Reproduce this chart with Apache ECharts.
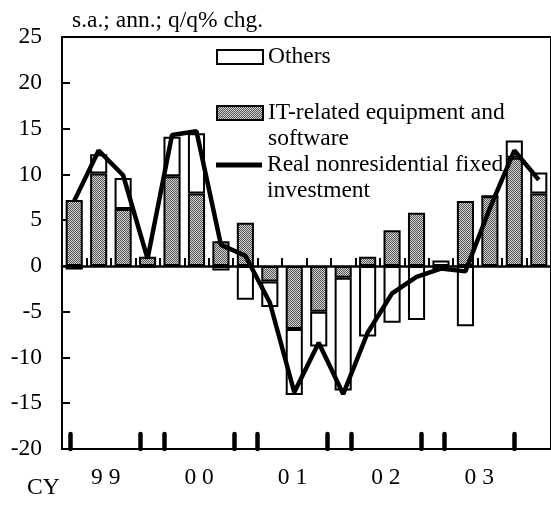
<!DOCTYPE html>
<html>
<head>
<meta charset="utf-8">
<script src="https://cdn.jsdelivr.net/npm/echarts@6/dist/echarts.min.js"></script>
<style>
  html, body { margin: 0; padding: 0; background: #fff; }
  #chart { width: 551px; height: 514px; }
</style>
</head>
<body>
<div id="chart"></div>
<script>
// quarterly data, 1999Q1 - 2003Q4
const quarters = ['99Q1','99Q2','99Q3','99Q4','00Q1','00Q2','00Q3','00Q4','01Q1','01Q2',
                  '01Q3','01Q4','02Q1','02Q2','02Q3','02Q4','03Q1','03Q2','03Q3','03Q4'];
const itValues = [7.2, 10.1, 6.2, 1.0, 9.8, 7.9, 2.7, 4.7, -1.7, -6.9,
                  -5.0, -1.3, 1.0, 3.9, 5.8, -0.4, 7.1, 7.6, 11.8, 7.9];
const othersValues = [-0.4, 2.1, 3.4, -0.2, 4.3, 6.6, -0.5, -3.7, -2.8, -7.2,
                      -3.8, -12.3, -7.7, -6.2, -5.9, 0.6, -6.6, 0, 1.9, 2.3];
const investValues = [7.1, 12.6, 9.9, 0.8, 14.3, 14.7, 2.3, 1.1, -4.0, -13.8,
                      -8.4, -14.0, -7.3, -3.0, -1.2, -0.3, -0.6, 6.3, 12.6, 9.4];
const yearLabels = ['9 9', '0 0', '0 1', '0 2', '0 3'];

const FONT = "'Liberation Serif', 'Times New Roman', serif";
const FS = 23.5;

// dotted fill for the IT bars
const pat = document.createElement('canvas');
pat.width = 2; pat.height = 2;
const pctx = pat.getContext('2d');
pctx.fillStyle = '#d2d2d2';
pctx.fillRect(0, 0, 2, 2);
pctx.fillStyle = '#555';
pctx.fillRect(0, 0, 1, 1);
pctx.fillRect(1, 1, 1, 1);

// year tick axis: half-quarter steps, labels centred in each year
const yearAxisData = [];
for (let m = 0; m < 39; m++) {
  yearAxisData.push(m % 8 === 3 ? yearLabels[(m - 3) / 8] : '');
}

const names = {
  others: 'Others',
  it: 'IT-related equipment and software',
  inv: 'Real nonresidential fixed investment'
};
// leading blank line keeps the first text line level with the icon
const legendText = {};
legendText[names.others] = 'Others';
legendText[names.it] = ' \nIT-related equipment and\nsoftware';
legendText[names.inv] = ' \nReal nonresidential fixed\ninvestment';

function legendAt(top, name, iconH) {
  return {
    top: top,
    left: 216,
    orient: 'vertical',
    padding: 0,
    itemWidth: 46,
    itemHeight: iconH,
    selectedMode: false,
    formatter: n => legendText[n],
    textStyle: { fontFamily: FONT, fontSize: FS, color: '#000', lineHeight: 26 },
    data: [{ name: name, icon: 'rect' }]
  };
}

const myChart = echarts.init(document.getElementById('chart'));
const option = {
  animation: false,
  title: {
    text: 's.a.; ann.; q/q% chg.',
    left: 72,
    top: 9,
    padding: 0,
    textStyle: { fontFamily: FONT, fontSize: FS, fontWeight: 'normal', color: '#000' }
  },
  legend: [
    legendAt(44, names.others, 14),
    legendAt(74, names.it, 14),
    legendAt(126, names.inv, 5)
  ],
  grid: [
    { left: 62, right: -2, top: 37, bottom: 65, show: true, borderColor: '#000', borderWidth: 2 },
    { left: 70.7, right: 36.7, top: 37, bottom: 65 }
  ],
  xAxis: [
    {
      type: 'category',
      data: quarters,
      gridIndex: 0,
      z: 3,
      axisLine: { onZero: true, lineStyle: { color: '#000', width: 2.5 } },
      axisTick: { show: true, interval: 0, inside: true, length: 8, lineStyle: { color: '#000', width: 2 } },
      axisLabel: { show: false }
    },
    {
      type: 'category',
      data: yearAxisData,
      gridIndex: 1,
      boundaryGap: false,
      position: 'bottom',
      name: 'CY',
      nameLocation: 'start',
      nameGap: 11,
      nameTextStyle: { fontFamily: FONT, fontSize: FS, color: '#000', verticalAlign: 'top', padding: [27, 0, 0, 0] },
      axisLine: { show: false, onZero: false },
      axisTick: {
        inside: true,
        length: 15,
        interval: i => i % 2 === 0 && ((i / 2) % 4 === 0 || (i / 2) % 4 === 3),
        lineStyle: { color: '#000', width: 4.5, cap: 'round' }
      },
      axisLabel: { interval: 0, margin: 17, fontFamily: FONT, fontSize: FS, color: '#000' }
    }
  ],
  yAxis: [
    {
      type: 'value',
      gridIndex: 0,
      min: -20,
      max: 25,
      interval: 5,
      splitLine: { show: false },
      axisLine: { show: true, lineStyle: { color: '#000', width: 2 } },
      axisTick: { show: true, inside: true, length: 8, lineStyle: { color: '#000', width: 2 } },
      axisLabel: { margin: 20, fontFamily: FONT, fontSize: FS, color: '#000' }
    },
    { type: 'value', gridIndex: 1, min: -20, max: 25, show: false }
  ],
  series: [
    {
      name: names.it,
      type: 'bar',
      stack: 'total',
      barWidth: '70%',
      itemStyle: { color: { image: pat, repeat: 'repeat' }, borderColor: '#000', borderWidth: 2 },
      data: itValues
    },
    {
      name: names.others,
      type: 'bar',
      stack: 'total',
      itemStyle: { color: '#fff', borderColor: '#000', borderWidth: 2 },
      data: othersValues
    },
    {
      name: names.inv,
      type: 'line',
      symbol: 'none',
      z: 5,
      lineStyle: { color: '#000', width: 4.5 },
      itemStyle: { color: '#000' },
      data: investValues
    }
  ]
};
myChart.setOption(option);
</script>
</body>
</html>
